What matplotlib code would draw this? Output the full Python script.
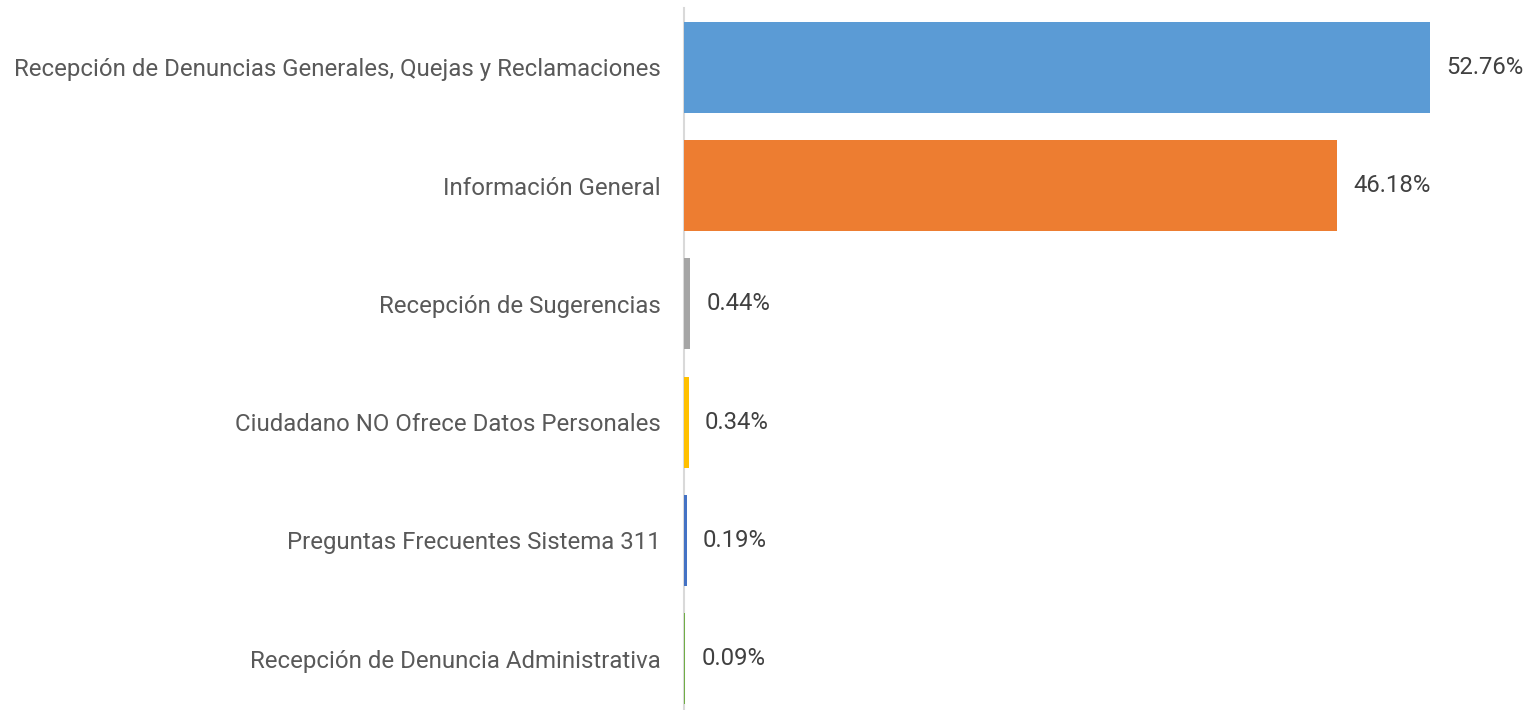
import matplotlib
matplotlib.use('Agg')
import matplotlib.pyplot as plt

categorias = ['Recepción de Denuncias Generales, Quejas y Reclamaciones',
              'Información General',
              'Recepción de Sugerencias',
              'Ciudadano NO Ofrece Datos Personales',
              'Preguntas Frecuentes Sistema 311',
              'Recepción de Denuncia Administrativa']
porcentajes = [52.76, 46.18, 0.44, 0.34, 0.19, 0.09]
colores = ['#5B9BD5', '#ED7D31', '#A5A5A5', '#FFC000', '#4472C4', '#70AD47']

plt.rcParams['font.family'] = ['Roboto', 'DejaVu Sans']

fig = plt.figure(figsize=(15.32, 7.10), dpi=100)
ax = fig.add_axes([684 / 1532, 1 - 718 / 710, 1 - 684 / 1532, 710 / 710])

pos = list(range(len(categorias)))
# bars on top of the spine so the tiny ones still show
ax.barh(pos, porcentajes, height=0.77, color=colores, zorder=3)

for y, v in zip(pos, porcentajes):
    ax.text(v + 1.15, y, '%.2f%%' % v, va='center', ha='left',
            fontsize=17.2, color='#404040')

ax.set_xlim(0, 60)
ax.set_ylim(5.5, -0.5)
ax.set_yticks(pos)
ax.set_yticklabels(categorias, fontsize=17.3, color='#595959')
ax.tick_params(axis='y', length=0, pad=16.5)
ax.set_xticks([])

for s in ['top', 'right', 'bottom']:
    ax.spines[s].set_visible(False)
ax.spines['left'].set_color('#D9D9D9')
ax.spines['left'].set_linewidth(1.5)
ax.spines['left'].set_bounds(-0.5, 5.42)

fig.savefig('out.png', dpi=100)
